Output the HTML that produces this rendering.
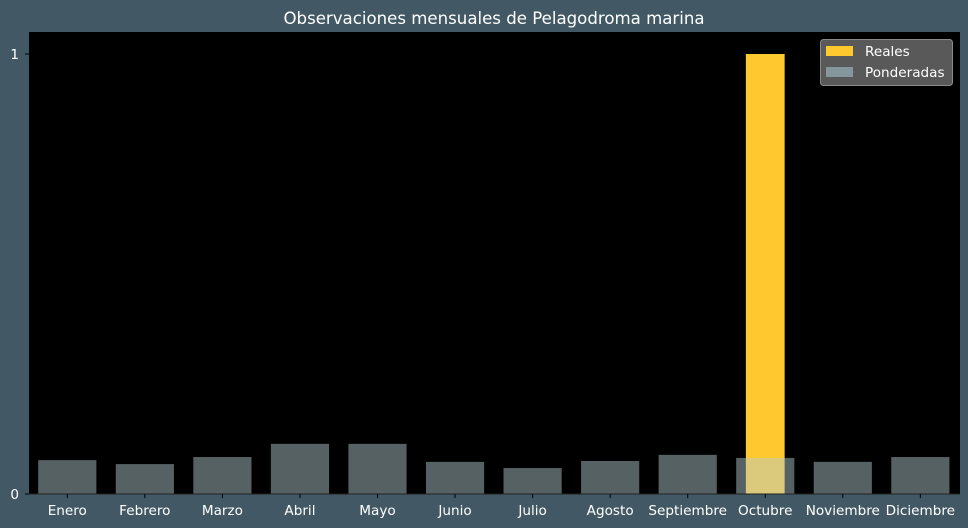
<!DOCTYPE html>
<html><head><meta charset="utf-8"><style>
body{margin:0;background:#425965;}
svg{display:block;font-family:"DejaVu Sans","Liberation Sans",sans-serif;}
</style></head><body>
<svg id="chart" width="968" height="528">
<rect width="968" height="528" fill="#425965"/>
<text x="494" y="24" fill="#ffffff" font-size="16.6" text-anchor="middle">Observaciones mensuales de Pelagodroma marina</text>
<rect x="29" y="32" width="931" height="462" fill="#000000"/>
<g id="bars"></g>
<line x1="29" y1="494" x2="960" y2="494" stroke="#222" stroke-width="1"/>
<g id="ticks"></g>
<g>
<rect x="820.5" y="39.5" width="132" height="46" rx="3" fill="#595959" stroke="#8a8a8a"/>
<rect x="826" y="46" width="27" height="10" fill="#ffc82e"/>
<text x="865" y="56" fill="#ffffff" font-size="13.6">Reales</text>
<rect x="826" y="67" width="27" height="10" fill="#85979d"/>
<text x="865" y="77" fill="#ffffff" font-size="13.6">Ponderadas</text>
</g>
</svg>
<script>
const categories=["Enero","Febrero","Marzo","Abril","Mayo","Junio","Julio","Agosto","Septiembre","Octubre","Noviembre","Diciembre"];
const reales=[0,0,0,0,0,0,0,0,0,1,0,0];
const ponderadas=[0.077,0.068,0.084,0.114,0.114,0.073,0.059,0.075,0.089,0.082,0.073,0.084];
const yTicks=[0,1];
const NS="http://www.w3.org/2000/svg";
const band=77.55, x0=67.3;
const xS=i=>x0+i*band;
const yS=v=>494-v*440;
const bars=document.getElementById('bars'), ticks=document.getElementById('ticks');
function mk(t,a,p){const e=document.createElementNS(NS,t);for(const k in a)e.setAttribute(k,a[k]);p.appendChild(e);return e;}
categories.forEach((c,i)=>{
  if(reales[i]>0){
    const r=mk('rect',{x:xS(i)-band*0.25,y:yS(reales[i]),width:band*0.5,height:494-yS(reales[i]),fill:'#ffc82e'},bars);
    
    
  }
});
categories.forEach((c,i)=>{
  const r=mk('rect',{x:xS(i)-band*0.375,y:yS(ponderadas[i]),width:band*0.75,height:494-yS(ponderadas[i]),fill:'#b4cbd2','fill-opacity':'0.48'},bars);
  
  
  const tk=mk('line',{x1:xS(i),x2:xS(i),y1:494,y2:498,stroke:'#000'},ticks);
  
  
  const t=mk('text',{x:xS(i),y:515,fill:'#fff','font-size':13.6,'text-anchor':'middle'},ticks);
  t.textContent=c;
  
  
});
yTicks.forEach(v=>{
  const tk=mk('line',{x1:25,x2:29,y1:yS(v),y2:yS(v),stroke:'#000'},ticks);
  
  
  const t=mk('text',{x:19,y:yS(v)+5,fill:'#fff','font-size':13.6,'text-anchor':'end'},ticks);
  t.textContent=v;
  
  
});
</script>
</body></html>
